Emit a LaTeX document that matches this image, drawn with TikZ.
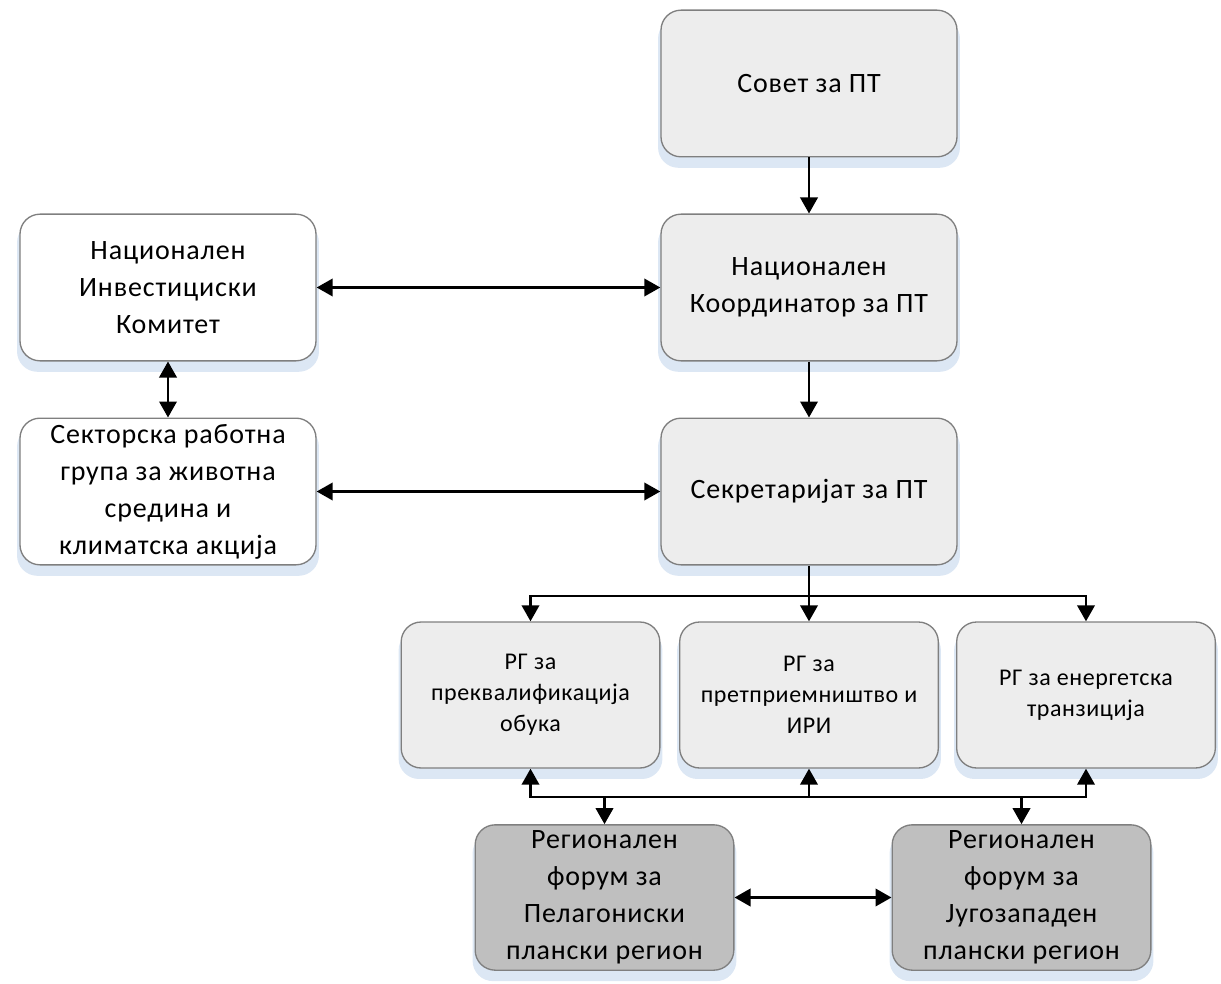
\documentclass[tikz,border=0pt]{standalone}
\usepackage{fontspec}
\setmainfont{Carlito}
\newfontfamily\boxfont[LetterSpace=3]{Carlito}
\newfontfamily\rgfont[LetterSpace=2.5]{Carlito}
\usetikzlibrary{arrows.meta,shadows}
\definecolor{boxgray}{HTML}{EDEDED}
\definecolor{boxdark}{HTML}{BFBFBF}
\definecolor{edgegray}{HTML}{7F7F7F}
\definecolor{shadowblue}{HTML}{DCE7F4}

\begin{document}
\begin{tikzpicture}[x=0.75pt,y=-0.75pt,
    box/.style={draw=edgegray, line width=1pt, rounded corners=15pt, align=center,
      minimum width=222pt, minimum height=110pt, inner sep=2pt,
      font=\boxfont\fontsize{21}{27.75}\selectfont,
      drop shadow={shadow xshift=0pt, shadow yshift=-7pt, shadow scale=1.02, fill=shadowblue, opacity=1}},
    rgbox/.style={box, fill=boxgray, minimum width=194pt, minimum height=109.5pt,
      font=\rgfont\fontsize{18}{23.25}\selectfont},
    regbox/.style={box, fill=boxdark, minimum width=194pt, minimum height=109pt},
    line/.style={line width=2pt},
    arr/.style={line width=2pt, -{Triangle[width=13pt,length=12pt]}},
    dbl/.style={line width=2pt, {Triangle[width=13pt,length=12pt]}-{Triangle[width=13pt,length=12pt]}}]
  \useasboundingbox (0,0) rectangle (1221,984);

  % upper column
  \node[box, fill=boxgray] (sovet) at (809,83.5) {Совет за ПТ};
  \node[box, fill=boxgray] (koord) at (809,287.5) {Национален\\Координатор за ПТ};
  \node[box, fill=boxgray] (sekr) at (809,491.5) {Секретаријат за ПТ};

  % left column
  \node[box, fill=white] (nik) at (168,287.5) {Национален\\Инвестициски\\Комитет};
  \node[box, fill=white] (swg) at (168,491.5) {Секторска работна\\група за животна\\средина и\\климатска акција};

  % working groups
  \node[rgbox] (rgobuka) at (530.5,695) {РГ за\\преквалификација\\обука};
  \node[rgbox] (rgipr) at (809,695) {РГ за\\претприемништво и\\ИРИ};
  \node[rgbox] (rgenerg) at (1086,695) {РГ за енергетска\\транзиција};

  % regional forums
  \node[regbox] (pelag) at (604.5,897.5) {Регионален\\форум за\\Пелагониски\\плански регион};
  \node[regbox] (jugoz) at (1021.5,897.5) {Регионален\\форум за\\Југозападен\\плански регион};

  \coordinate (topbus) at (809,596);
  \coordinate (lowbus) at (809,797);

  \draw[arr] (sovet) -- (koord);
  \draw[arr] (koord) -- (sekr);
  \draw[dbl] (nik) -- (koord);
  \draw[dbl] (nik) -- (swg);
  \draw[dbl] (swg) -- (sekr);

  \draw[line] (sekr) -- (topbus);
  \draw[arr] (topbus) -| (rgobuka);
  \draw[arr] (topbus) -- (rgipr);
  \draw[arr] (topbus) -| (rgenerg);

  \draw[arr] (lowbus) -| (rgobuka);
  \draw[arr] (lowbus) -- (rgipr);
  \draw[arr] (lowbus) -| (rgenerg);
  \draw[arr] (lowbus) -| (pelag);
  \draw[arr] (lowbus) -| (jugoz);

  \draw[dbl] (pelag) -- (jugoz);
\end{tikzpicture}
\end{document}
